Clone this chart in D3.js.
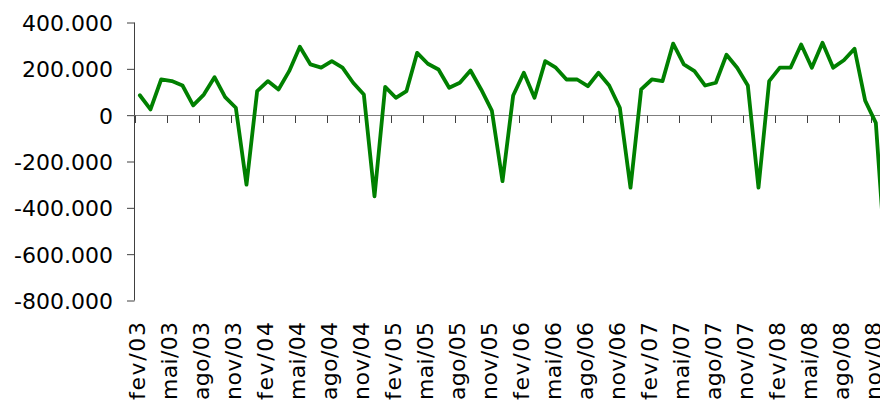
<!DOCTYPE html>
<html>
<head>
<meta charset="utf-8">
<script src="https://cdn.jsdelivr.net/npm/d3@7"></script>
<style>
  html, body { margin: 0; padding: 0; background: #fff; overflow: hidden; }
  svg { display: block; }
  text { font-family: "DejaVu Sans", Verdana, sans-serif; fill: #000; }
</style>
</head>
<body>
<div id="chart"></div>
<script>
// Monthly categories, Feb 2003 to Dec 2008
const categories = [
  "fev/03","mar/03","abr/03","mai/03","jun/03","jul/03","ago/03","set/03","out/03","nov/03","dez/03",
  "jan/04","fev/04","mar/04","abr/04","mai/04","jun/04","jul/04","ago/04","set/04","out/04","nov/04","dez/04",
  "jan/05","fev/05","mar/05","abr/05","mai/05","jun/05","jul/05","ago/05","set/05","out/05","nov/05","dez/05",
  "jan/06","fev/06","mar/06","abr/06","mai/06","jun/06","jul/06","ago/06","set/06","out/06","nov/06","dez/06",
  "jan/07","fev/07","mar/07","abr/07","mai/07","jun/07","jul/07","ago/07","set/07","out/07","nov/07","dez/07",
  "jan/08","fev/08","mar/08","abr/08","mai/08","jun/08","jul/08","ago/08","set/08","out/08","nov/08","dez/08"
];

// Net monthly balance
const values = [
  86000, 25000, 154000, 147000, 128000, 42000, 89000, 164000, 78000, 32000, -300000,
  104000, 147000, 111000, 190000, 295000, 219000, 205000, 233000, 205000, 140000, 89000, -350000,
  122000, 75000, 104000, 269000, 222000, 197000, 118000, 140000, 193000, 111000, 20000, -285000,
  85000, 183000, 75000, 233000, 205000, 154000, 154000, 125000, 183000, 128000, 32000, -313000,
  111000, 154000, 147000, 309000, 219000, 190000, 128000, 140000, 261000, 205000, 128000, -313000,
  147000, 205000, 205000, 305000, 205000, 313000, 205000, 237000, 287000, 63000, -33000, -690000
];

// Value axis ticks
const yTicks = [400000, 200000, 0, -200000, -400000, -600000, -800000];

const W = 880, H = 407;
const plotLeft = 134.5, plotTop = 22.5, plotBottom = 300.5;
const step = 32 / 3; // width of one month on the category axis

const svg = d3.select("#chart").append("svg")
  .attr("width", W).attr("height", H);

const x = d3.scaleBand()
  .domain(categories)
  .range([plotLeft, plotLeft + step * categories.length])
  .padding(0);

const y = d3.scaleLinear()
  .domain([-800000, 400000])
  .range([plotBottom, plotTop]);

const fmt = v => v === 0 ? "0" : d3.format(",")(v).replace(/,/g, ".").replace("\u2212", "-");

// Value axis
const yAxis = svg.append("g").attr("transform", `translate(${plotLeft},0)`)
  .call(d3.axisLeft(y).tickValues(yTicks).tickSize(7.5).tickPadding(14).tickFormat(fmt));
yAxis.select(".domain").attr("stroke", "#404040").attr("d", `M0,${plotTop}V${plotBottom}`);
yAxis.selectAll(".tick line").attr("stroke", "#404040");
yAxis.selectAll(".tick text")
  .style("font-size", "22px")
  .attr("dy", "0.36em");

// Category axis along zero
const y0 = Math.round(y(0)) + 0.5;
const xAxisG = svg.append("g");
xAxisG.append("line")
  .attr("x1", plotLeft).attr("x2", W + 20)
  .attr("y1", y0).attr("y2", y0)
  .attr("stroke", "#7f7f7f").attr("stroke-width", 1);

const tickCats = categories.filter((c, i) => i % 3 === 0);
xAxisG.selectAll("line.tick")
  .data(tickCats)
  .join("line")
  .attr("class", "tick")
  .attr("x1", d => Math.round(x(d)) + 0.5)
  .attr("x2", d => Math.round(x(d)) + 0.5)
  .attr("y1", y0).attr("y2", y0 + 7.5)
  .attr("stroke", "#404040").attr("stroke-width", 1);

// Category labels at the bottom, rotated, all set to one common length
svg.append("g").selectAll("text")
  .data(tickCats)
  .join("text")
  .attr("transform", d => `translate(${x(d) + x.bandwidth() / 2},322) rotate(-90)`)
  .attr("text-anchor", "end")
  .attr("dy", "0.25em")
  .attr("textLength", 78)
  .attr("lengthAdjust", "spacing")
  .style("font-size", "22px")
  .text(d => d);

// Series line
const line = d3.line()
  .x((d, i) => x(categories[i]) + x.bandwidth() / 2)
  .y(d => y(d));

svg.append("path")
  .datum(values)
  .attr("fill", "none")
  .attr("stroke", "#008000")
  .attr("stroke-width", 3.8)
  .attr("stroke-linejoin", "round")
  .attr("stroke-linecap", "round")
  .attr("d", line);
</script>
</body>
</html>
